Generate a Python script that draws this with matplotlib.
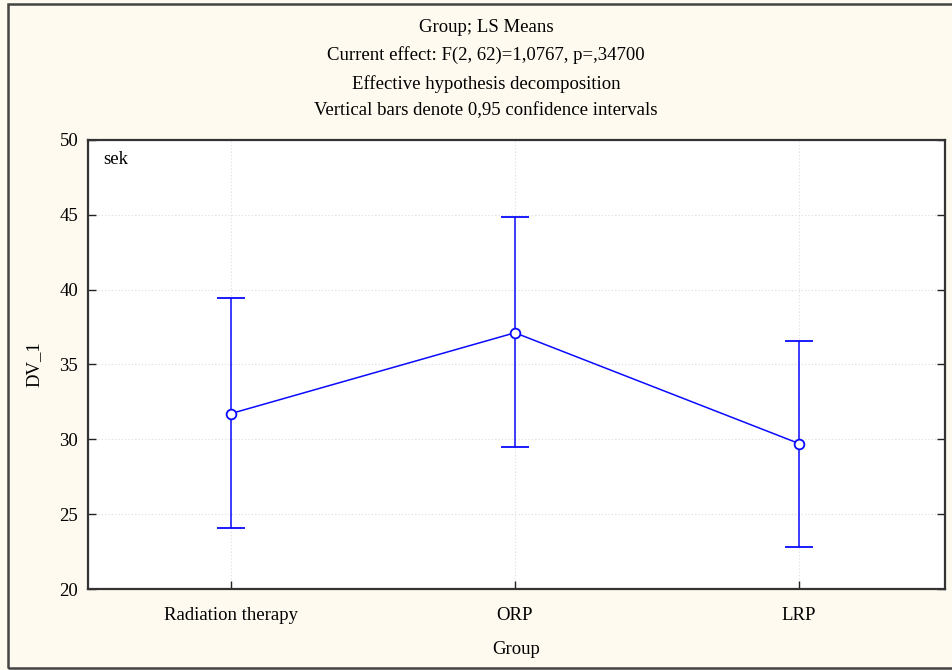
import matplotlib
matplotlib.use("Agg")
import matplotlib.pyplot as plt
from matplotlib.patches import Rectangle

groups = ["Radiation therapy", "ORP", "LRP"]
means = [31.72, 37.12, 29.72]
upper = [39.42, 44.85, 36.57]
lower = [24.05, 29.47, 22.82]
yticks = [20, 25, 30, 35, 40, 45, 50]
title_lines = ["Group; LS Means",
               "Current effect: F(2, 62)=1,0767, p=,34700",
               "Effective hypothesis decomposition",
               "Vertical bars denote 0,95 confidence intervals"]

plt.rcParams['font.family'] = ['Liberation Serif', 'DejaVu Serif']
bg = '#FEFAEF'
fs = 13.5
W, H = 952, 670
fig = plt.figure(figsize=(W / 100, H / 100), dpi=100, facecolor=bg)
ax = fig.add_axes([88 / W, 1 - 589 / H, (945 - 88) / W, (589 - 140) / H])
ax.set_facecolor('white')

x = list(range(len(groups)))
yerr = [[m - l for m, l in zip(means, lower)], [u - m for m, u in zip(means, upper)]]
ax.errorbar(x, means, yerr=yerr, color='#0A0AFF', lw=1.1, elinewidth=1.1,
            capsize=10, capthick=1.2, marker='o', markersize=7,
            markerfacecolor='white', markeredgecolor='#0A0AFF', markeredgewidth=1.3,
            zorder=3)

ax.set_xlim(-0.503, 2.514)
ax.set_ylim(20, 50)
ax.set_yticks(yticks)
ax.set_xticks(x)
ax.set_xticklabels(groups)
ax.grid(True, color='#dcdcdc', linestyle=(0, (1, 2)), lw=0.8)
ax.tick_params(direction='in', length=6, width=1, labelsize=fs, right=True,
               colors='#222222', labelcolor='black')
ax.tick_params(axis='x', pad=13)
ax.tick_params(axis='y', pad=7)
for s in ax.spines.values():
    s.set_linewidth(1.6)
    s.set_color('#333333')

ax.set_xlabel("Group", fontsize=fs, labelpad=12)
ax.set_ylabel("DV_1", fontsize=fs, labelpad=12)
ax.text(0.018, 1 - 20 / 449, "sek", transform=ax.transAxes, fontsize=fs,
        va='center', ha='left')

ys = [27, 55, 84, 111]
for t, yy in zip(title_lines, ys):
    fig.text(486 / W, 1 - yy / H, t, ha='center', va='center', fontsize=fs)

fig.patches.append(Rectangle((8 / W, 1 - 668 / H), 1.2, (668 - 4) / H,
                             transform=fig.transFigure, fill=False,
                             edgecolor='#444444', lw=1.8))

fig.savefig("out.png", dpi=100, facecolor=bg)
